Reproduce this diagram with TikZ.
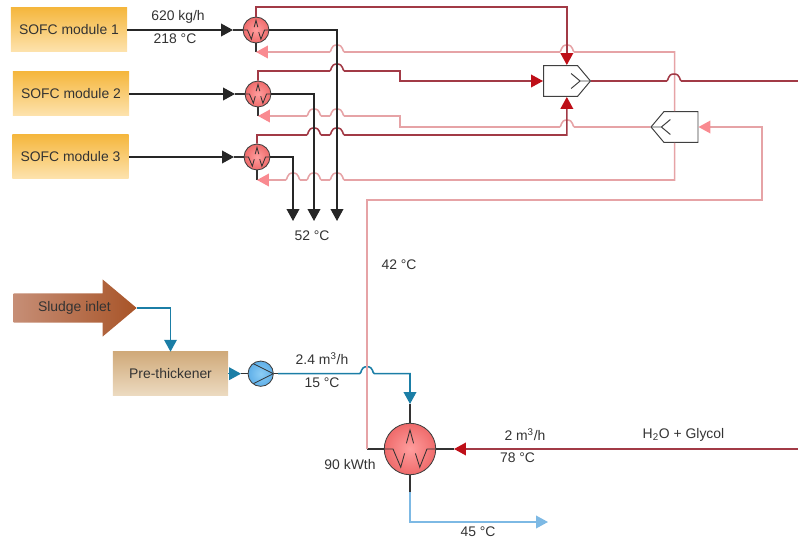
\documentclass[tikz,border=0pt]{standalone}
\usepackage{fontspec}
\setmainfont{Liberation Sans}
\usepackage{xcolor}
\usetikzlibrary{arrows.meta,shapes.arrows,shapes.symbols}
\definecolor{hotline}{HTML}{A23A46}
\definecolor{hottip}{HTML}{BE0F18}
\definecolor{warmline}{HTML}{E6A3A6}
\definecolor{warmtip}{HTML}{F98A90}
\definecolor{sludgeline}{HTML}{1B7EA6}
\definecolor{coldline}{HTML}{7DB9E4}
\definecolor{labelgray}{HTML}{333333}
\tikzstyle{lbl}=[text=labelgray, font=\fontsize{9.9}{11}\selectfont, inner sep=0pt]
\tikzstyle{module}=[rectangle, top color={rgb,255:red,245;green,183;blue,62}, bottom color={rgb,255:red,253;green,226;blue,172},
  minimum width=82.5pt, minimum height=30.6pt, inner sep=0pt, lbl]
\tikzstyle{stub}=[black!80, line width=0.8pt]
\tikzstyle{hotpipe}=[hotline, line width=1.1pt]
\tikzstyle{warmpipe}=[warmline, line width=1.1pt]
\tikzstyle{flue}=[black!85, line width=1.1pt]
\tikzstyle{feed}=[sludgeline, line width=1.1pt]
\tikzstyle{coldpipe}=[coldline, line width=1.1pt]
\tikzset{
  tipk/.tip={Triangle[length=8.5pt,width=9pt]},
  hx/.style={circle, draw=black!75, line width=0.6pt, inner color={rgb,255:red,255;green,158;blue,158}, outer color={rgb,255:red,239;green,107;blue,107},
    minimum size=2*#1, inner sep=0pt,
    path picture={\draw[black!80,line width=0.6pt,shift={(path picture bounding box.center)},x=#1,y=#1]
      (-1,0)--(-.66,0)--(-.36,-.71)--(-.21,-.17)
      (.21,-.17)--(.38,-.71)--(.66,0)--(1,0)
      (-.14,.22)--(0,.74)--(.14,.22);}},
  mixer/.style={signal, signal pointer angle=100, draw=black!75, fill=white, line width=0.7pt,
    minimum width=33.4pt, minimum height=22pt, inner sep=0pt},
}
\newcommand{\hop}[2]{-- (#1-7.5,#2) .. controls (#1-5,#2) and (#1-7,#2-7) .. (#1,#2-7) .. controls (#1+7,#2-7) and (#1+5,#2) .. (#1+7.5,#2)}

\begin{document}
\begin{tikzpicture}[x=0.025cm,y=-0.025cm]
\useasboundingbox (0,0) rectangle (798,540);
% SOFC modules and their coolers
\foreach \i/\bx/\hx/\y/\r in {1/69/256/30/52, 2/71/258/94/116, 3/70.5/257/157/180} {
  \node[module] (sofc\i) at (\bx,\y-0.5) {SOFC module \i};
  \node[hx=9.2pt] (hx\i) at (\hx,\y) {};
  \coordinate (in\i) at (\hx-23,\y);
  \coordinate (ret\i) at (\hx,\r);
  \draw[flue,-{tipk}] (sofc\i.east |- in\i) -- (in\i);
  \draw[stub] (in\i) -- (hx\i.west);
  \draw[stub] (ret\i) -- (hx\i.south);
}
% mixers
\node[mixer] (mix) at (560.5,81) {};
\node[mixer, signal to=west] (split) at (681,127) {};
\coordinate (mixtop) at ([xshift=4.5pt]mix.north);
\coordinate (mixbot) at ([xshift=4.5pt]mix.south);
\coordinate (splittop) at ([xshift=-4.6pt]split.north);
\coordinate (splitbot) at ([xshift=-4.6pt]split.south);
\draw[black!75,line width=0.7pt] (mix.east) -- ++(-11,0) -- ++(-9,-7.5) ++(9,7.5) -- ++(-9,7.5);
\draw[black!75,line width=0.7pt] (split.west) -- ++(11,0) -- ++(9,-7.5) ++(-9,7.5) -- ++(9,7.5);
% warm return
\draw[warmpipe,{tipk[color=warmtip]}-] (ret1) \hop{337}{52} \hop{567}{52} -- (splittop |- ret1) -- (splittop);
\draw[warmpipe,{tipk[color=warmtip]}-] (ret2) \hop{314}{116} \hop{337}{116} -- (400,116) -- (400,127) \hop{567}{127} -- (split.west);
\draw[warmpipe,{tipk[color=warmtip]}-] (ret3) \hop{293}{180} \hop{314}{180} \hop{337}{180} -- (splitbot |- ret3) -- (splitbot);
% hot side
\draw[hotpipe,-{tipk[color=hottip]}] (hx1.north) -- (256,7) -- (mixtop |- 0,7) -- (mixtop);
\draw[hotpipe,-{tipk[color=hottip]}] (hx2.north) -- (258,71) \hop{337}{71} -- (400,71) -- (400,81) -- (mix.west);
\draw[hotpipe,-{tipk[color=hottip]}] (hx3.north) -- (257,135) \hop{314}{135} \hop{337}{135} -- (mixbot |- 0,135) -- (mixbot);
\draw[hotpipe] (mix.east) \hop{674}{81} -- (798,81);
% exhaust
\draw[flue,-{tipk}] (hx1.east) -- (337,30) -- (337,221);
\draw[flue,-{tipk}] (hx2.east) -- (314,94) -- (314,221);
\draw[flue,-{tipk}] (hx3.east) -- (293,157) -- (293,221);
% sludge line
\node[single arrow, single arrow tip angle=80, single arrow head extend=10pt, single arrow head indent=0pt,
  minimum height=87.5pt, minimum width=39.8pt,
  left color={rgb,255:red,198;green,142;blue,118}, right color={rgb,255:red,168;green,84;blue,40}, lbl, inner ysep=5.5pt, inner xsep=0pt]
  (sludge) at (66.5,308) {\hspace*{11.3pt}Sludge inlet};
\node[rectangle, top color={rgb,255:red,208;green,170;blue,122}, bottom color={rgb,255:red,236;green,218;blue,192},
  minimum width=81.8pt, minimum height=30.6pt, lbl] (pre) at (170.5,373.5) {Pre-thickener};
\node[circle, draw=black!75, line width=0.6pt, inner color={rgb,255:red,140;green,205;blue,245}, outer color={rgb,255:red,95;green,175;blue,232},
  minimum size=18pt, inner sep=0pt,
  path picture={\draw[black!80,line width=0.6pt,shift={(path picture bounding box.center)},x=9pt,y=9pt]
    (-.6,.8)--(1,0)--(-.6,-.8);}] (pump) at (260.7,373.7) {};
\node[hx=18.3pt] (hxb) at (410,449) {};
\coordinate (pin) at (241,373.7);
\coordinate (pout) at (278,373.7);
\coordinate (bin) at (410,404);
\coordinate (bout) at (410,492);
\coordinate (gin) at (454,449);
\coordinate (wout) at (367,449);
\draw[feed,-{tipk}] (sludge.tip) -- (170.5,308) -- (pre.north);
\draw[feed,-{tipk}] (pre.east |- pin) -- (pin);
\draw[stub] (pin) -- (pump.west);
\draw[stub] (pump.east) -- (pout);
\draw[feed,-{tipk}] (pout) \hop{367}{373.7} -- (410,373.7) -- (bin);
\draw[stub] (bin) -- (hxb.north);
\draw[stub] (hxb.west) -- (wout);
\draw[stub] (hxb.east) -- (gin);
\draw[stub] (hxb.south) -- (bout);
\draw[hotpipe,{tipk[color=hottip]}-] (gin) -- (798,449);
\draw[coldpipe,-{tipk}] (bout) -- (410,522) -- (548,522);
\draw[warmpipe,-{tipk[color=warmtip]}] (wout) -- (367,200) -- (762,200) -- (762,127) -- (split.east);
% labels
\node[lbl] (l1) at (178,17) {620 kg/h};
\node[lbl] (l2) at (175,39) {218 °C};
\node[lbl] (l3) at (312,235.5) {52 °C};
\node[lbl] (l4) at (399,265) {42 °C};
\node[lbl] (l5) at (322,359) {2.4 m\textsuperscript{3}/h};
\node[lbl] (l6) at (322,383) {15 °C};
\node[lbl] (l7) at (350,465) {90 kWth};
\node[lbl] (l8) at (525,435) {2 m\textsuperscript{3}/h};
\node[lbl] (l9) at (517.5,458) {78 °C};
\node[lbl] (l10) at (683.5,435) {H\textsubscript{2}O + Glycol};
\node[lbl] (l11) at (478,532) {45 °C};
\end{tikzpicture}
\end{document}
